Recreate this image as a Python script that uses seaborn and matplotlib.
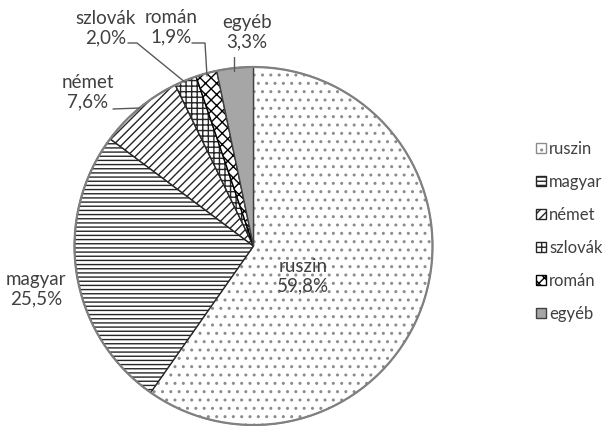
import matplotlib
matplotlib.use("Agg")
import matplotlib.pyplot as plt
import seaborn as sns

categories = ["ruszin", "magyar", "német", "szlovák", "román", "egyéb"]
shares = [59.8, 25.5, 7.6, 2.0, 1.9, 3.3]
pct_labels = ["59,8%", "25,5%", "7,6%", "2,0%", "1,9%", "3,3%"]

sns.set_style("white")
plt.rcParams["font.family"] = ["Lato", "DejaVu Sans"]
plt.rcParams["hatch.linewidth"] = 1.0

W, H = 605, 426
fig = plt.figure(figsize=(W / 100, H / 100), dpi=100)
ax = fig.add_axes([0, 0, 1, 1])

def Y(py):
    return H - py

cx, cy, r = 253.5, 246, 179
facecolors = ["white", "white", "white", "white", "white", "#a6a6a6"]
edgecolors = ["#8c8c8c", "#262626", "#262626", "#262626", "#000000", "#404040"]
hatches = ["..", "----", "////", "+++", "xxx", ""]

wedges, _ = ax.pie(shares, startangle=90, counterclock=False,
                   center=(cx, Y(cy)), radius=r, frame=True,
                   wedgeprops=dict(linewidth=1.0))
for w, fc, ec, h in zip(wedges, facecolors, edgecolors, hatches):
    w.set_facecolor(fc)
    w.set_edgecolor(ec)
    w.set_hatch(h)
rim = plt.Circle((cx, Y(cy)), r, fill=False, edgecolor="#808080", linewidth=1.6)
ax.add_patch(rim)
ax.set_xlim(0, W)
ax.set_ylim(0, H)
ax.set_aspect("equal")
ax.axis("off")

txt = "#404040"
fs = 13.5
label_pos = {
    "ruszin": (303, 276),
    "magyar": (36, 289),
    "német": (88, 92),
    "szlovák": (106, 28),
    "román": (171, 27),
    "egyéb": (247, 32),
}
for cat, pct in zip(categories, pct_labels):
    x, y = label_pos[cat]
    ax.text(x, Y(y), f"{cat}\n{pct}", ha="center", va="center",
            fontsize=fs, color=txt, linespacing=1.2)

leaders = [
    [(113, 109), (140, 108)],
    [(128, 43), (137, 43), (186, 83)],
    [(192, 43), (205, 43), (207, 76)],
    [(234, 57), (234, 71)],
]
for pts in leaders:
    xs = [p[0] for p in pts]
    ys = [Y(p[1]) for p in pts]
    ax.plot(xs, ys, color="#595959", linewidth=1.0)

leg = ax.legend(wedges, categories, loc="upper left",
                bbox_to_anchor=(536 / W, 1 - 141 / H), frameon=False,
                fontsize=12, handlelength=0.6, handleheight=0.6,
                handletextpad=0.2, labelspacing=1.02, labelcolor=txt,
                borderpad=0, borderaxespad=0)

fig.savefig("out.png", dpi=100)
